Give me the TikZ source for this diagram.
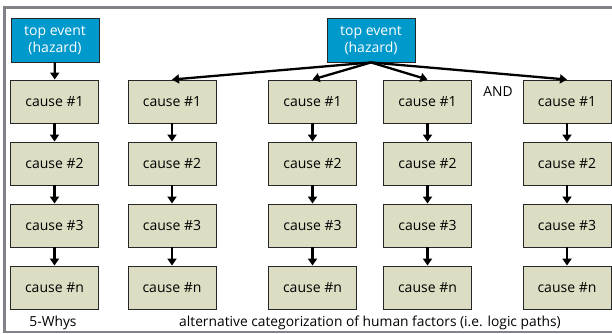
\documentclass[tikz,border=0pt]{standalone}
\usepackage{fontspec}
\setmainfont{Open Sans}
\usetikzlibrary{arrows.meta}
\definecolor{topblue}{RGB}{0,153,204}
\definecolor{causefill}{RGB}{221,221,195}
\definecolor{framegray}{RGB}{128,130,135}
\begin{document}
\begin{tikzpicture}[x=1pt,y=-1pt,
  causebox/.style={draw=black!85,line width=0.9pt,fill=causefill,minimum width=88pt,minimum height=43pt,inner sep=0pt,font=\fontsize{14}{16}\selectfont},
  topbox/.style={draw=black!85,line width=0.9pt,fill=topblue,minimum width=88pt,minimum height=44pt,inner sep=0pt,align=center,text=white,font=\fontsize{14}{17}\selectfont},
  arr/.style={line width=2.3pt,-{Triangle[length=7pt,width=9pt]}},
  lbl/.style={font=\fontsize{13.8}{16}\selectfont,inner sep=0pt}]
\useasboundingbox (0,0) rectangle (612,334);
\draw[framegray,line width=2.8pt] (618,7.5) -- (4.5,7.5) -- (4.5,332) -- (618,332);
\node[topbox] (t1) at (55,40) {top event\\(hazard)};
\node[topbox] (t2) at (371,40) {top event\\(hazard)};
\foreach \c/\x in {a/54.5,b/172,c/312.5,d/427.5,e/567}{
  \node[causebox] (\c1) at (\x,101.5) {cause \#1};
  \node[causebox] (\c2) at (\x,163.5) {cause \#2};
  \node[causebox] (\c3) at (\x,225.5) {cause \#3};
  \node[causebox] (\c4) at (\x,287.5) {cause \#n};
  \draw[arr] (\c1) -- (\c2);
  \draw[arr] (\c2) -- (\c3);
  \draw[arr] (\c3) -- (\c4);
}
\draw[arr] (t1) -- (a1);
\foreach \c in {b,c,d,e}{\draw[arr] (t2.south) -- (\c1.north);}
\node[lbl] (and) at (498,92) {AND};
\node[lbl] (w5) at (53,323) {5-Whys};
\node[lbl] (alt) at (370,323) {alternative categorization of human factors (i.e. logic paths)};
\end{tikzpicture}
\end{document}
